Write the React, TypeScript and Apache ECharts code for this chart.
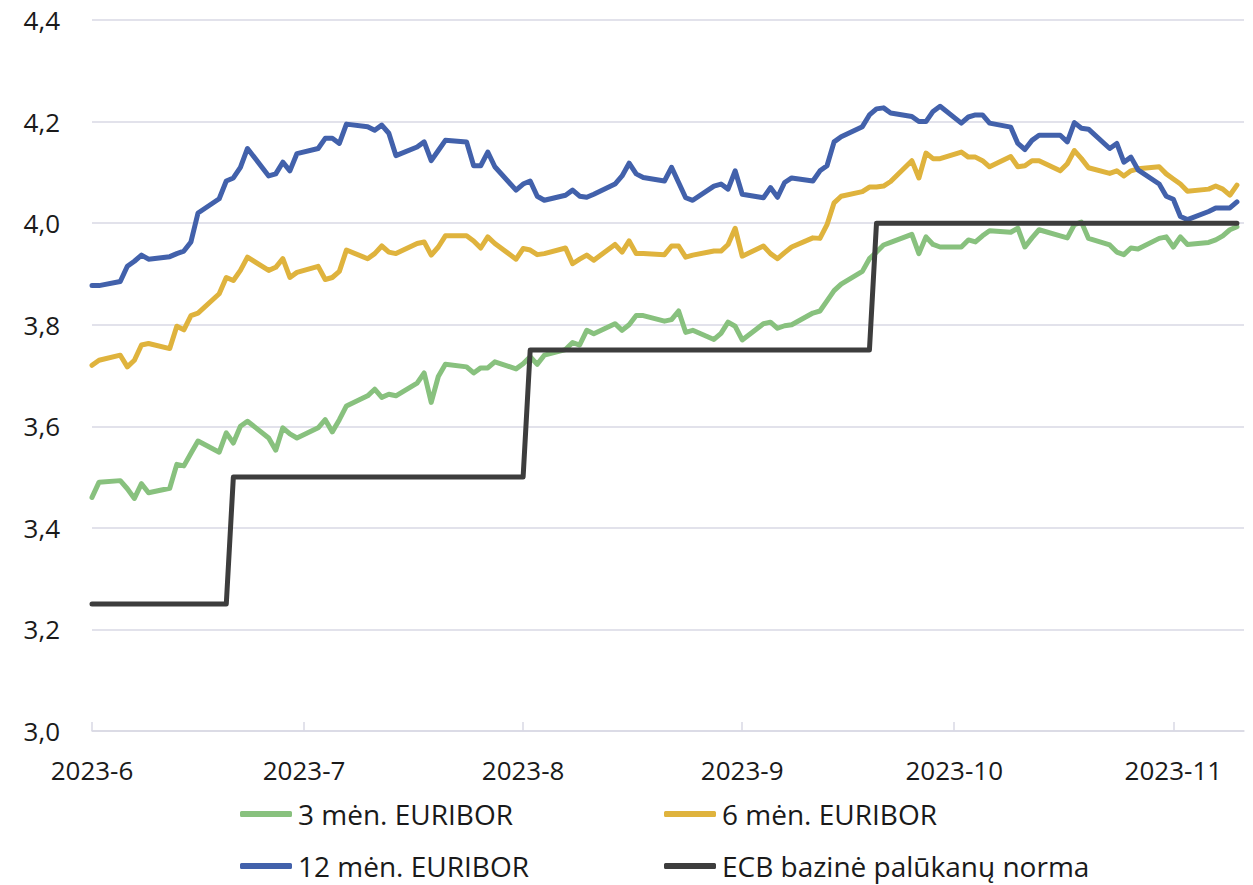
import React, { useEffect, useRef } from "react";
import * as echarts from "echarts";

// Business days (TARGET) per month, 2023
const MONTH_DAYS: [number, number[]][] = [
  [6, [1, 2, 5, 6, 7, 8, 9, 12, 13, 14, 15, 16, 19, 20, 21, 22, 23, 26, 27, 28, 29, 30]],
  [7, [3, 4, 5, 6, 7, 10, 11, 12, 13, 14, 17, 18, 19, 20, 21, 24, 25, 26, 27, 28, 31]],
  [8, [1, 2, 3, 4, 7, 8, 9, 10, 11, 14, 15, 16, 17, 18, 21, 22, 23, 24, 25, 28, 29, 30, 31]],
  [9, [1, 4, 5, 6, 7, 8, 11, 12, 13, 14, 15, 18, 19, 20, 21, 22, 25, 26, 27, 28, 29]],
  [10, [2, 3, 4, 5, 6, 9, 10, 11, 12, 13, 16, 17, 18, 19, 20, 23, 24, 25, 26, 27, 30, 31]],
  [11, [1, 2, 3, 6, 7, 8, 9, 10]],
];

const EURIBOR_3M = [
  // June
  3.46, 3.49, 3.493, 3.477, 3.458, 3.487, 3.469, 3.478, 3.525, 3.522, 3.547, 3.571, 3.549, 3.587, 3.567, 3.6, 3.61, 3.577, 3.553, 3.597, 3.585, 3.577,
  // July
  3.597, 3.613, 3.589, 3.613, 3.64, 3.66, 3.673, 3.657, 3.663, 3.66, 3.685, 3.705, 3.647, 3.698, 3.722, 3.717, 3.705, 3.715, 3.715, 3.727, 3.713,
  // August
  3.723, 3.737, 3.722, 3.74, 3.751, 3.765, 3.76, 3.789, 3.782, 3.802, 3.789, 3.8, 3.818, 3.818, 3.807, 3.81, 3.827, 3.785, 3.789, 3.771, 3.783, 3.805, 3.797,
  // September
  3.77, 3.802, 3.805, 3.793, 3.798, 3.8, 3.823, 3.827, 3.847, 3.867, 3.88, 3.905, 3.93, 3.943, 3.957, 3.962, 3.978, 3.94, 3.973, 3.958, 3.953,
  // October
  3.953, 3.967, 3.963, 3.975, 3.985, 3.982, 3.99, 3.953, 3.971, 3.987, 3.975, 3.971, 3.997, 4.002, 3.97, 3.957, 3.943, 3.938, 3.951, 3.949, 3.97, 3.973,
  // November
  3.953, 3.973, 3.958, 3.962, 3.967, 3.975, 3.987, 3.993,
];

const EURIBOR_6M = [
  3.72, 3.73, 3.74, 3.717, 3.73, 3.76, 3.763, 3.753, 3.797, 3.79, 3.818, 3.823, 3.861, 3.893, 3.887, 3.907, 3.933, 3.907, 3.913, 3.93, 3.893, 3.903,
  3.915, 3.889, 3.893, 3.905, 3.947, 3.93, 3.94, 3.955, 3.943, 3.94, 3.96, 3.963, 3.937, 3.953, 3.975, 3.975, 3.965, 3.951, 3.973, 3.96, 3.929,
  3.95, 3.947, 3.938, 3.94, 3.951, 3.92, 3.929, 3.937, 3.927, 3.958, 3.943, 3.965, 3.94, 3.94, 3.938, 3.955, 3.955, 3.933, 3.937, 3.945, 3.945, 3.958, 3.99,
  3.935, 3.955, 3.94, 3.93, 3.942, 3.953, 3.971, 3.97, 3.997, 4.04, 4.053, 4.062, 4.071, 4.071, 4.073, 4.082, 4.123, 4.089, 4.138, 4.127, 4.127,
  4.14, 4.13, 4.13, 4.123, 4.111, 4.131, 4.111, 4.113, 4.123, 4.123, 4.103, 4.117, 4.143, 4.127, 4.109, 4.098, 4.103, 4.093, 4.103, 4.107, 4.111, 4.097,
  4.087, 4.077, 4.063, 4.067, 4.073, 4.067, 4.055, 4.075,
];

const EURIBOR_12M = [
  3.877, 3.877, 3.885, 3.915, 3.925, 3.937, 3.929, 3.934, 3.94, 3.945, 3.963, 4.02, 4.048, 4.083, 4.089, 4.11, 4.147, 4.093, 4.097, 4.12, 4.103, 4.137,
  4.147, 4.167, 4.167, 4.157, 4.195, 4.19, 4.183, 4.193, 4.177, 4.133, 4.15, 4.16, 4.123, 4.143, 4.163, 4.16, 4.113, 4.113, 4.14, 4.111, 4.065,
  4.077, 4.083, 4.053, 4.045, 4.055, 4.065, 4.053, 4.051, 4.057, 4.077, 4.093, 4.118, 4.097, 4.09, 4.083, 4.11, 4.08, 4.05, 4.045, 4.073, 4.077, 4.067, 4.103,
  4.057, 4.05, 4.07, 4.051, 4.08, 4.089, 4.083, 4.103, 4.113, 4.16, 4.17, 4.19, 4.213, 4.225, 4.227, 4.217, 4.21, 4.2, 4.2, 4.22, 4.23,
  4.197, 4.209, 4.213, 4.213, 4.197, 4.189, 4.157, 4.145, 4.163, 4.173, 4.173, 4.16, 4.198, 4.187, 4.185, 4.147, 4.157, 4.12, 4.13, 4.105, 4.077, 4.053,
  4.047, 4.013, 4.007, 4.023, 4.03, 4.03, 4.03, 4.042,
];

// ECB main refinancing rate: change points
const ECB_DATES = ["2023-06-01", "2023-06-20", "2023-06-21", "2023-08-01", "2023-08-02", "2023-09-19", "2023-09-20", "2023-11-10"];
const ECB_RATES = [3.25, 3.25, 3.5, 3.5, 3.75, 3.75, 4.0, 4.0];

const SERIES_NAMES = ["3 mėn. EURIBOR", "6 mėn. EURIBOR", "12 mėn. EURIBOR", "ECB bazinė palūkanų norma"];
const COLORS = ["#88C17E", "#DFB33D", "#4261AB", "#3D3D3D"];

const Y_MIN = 3.0;
const Y_MAX = 4.4;
const Y_STEP = 0.2;

const pad = (n: number) => (n < 10 ? "0" + n : "" + n);
const DATES: string[] = [];
MONTH_DAYS.forEach(([m, days]) => days.forEach((d) => DATES.push(`2023-${pad(m)}-${pad(d)}`)));

const ts = (s: string) => {
  const [y, m, d] = s.split("-").map(Number);
  return new Date(y, m - 1, d).getTime();
};

const FONT = "Open Sans";
const TEXT_COLOR = "#1a1a1a";
const GRID_COLOR = "#D9D9E4";

export default function App() {
  const ref = useRef<HTMLDivElement>(null);

  useEffect(() => {
    if (!ref.current) return;
    const chart = echarts.init(ref.current, undefined, { renderer: "svg" });

    const mk = (vals: number[]) => DATES.map((d, i) => [ts(d), vals[i]]);
    const seriesData = [mk(EURIBOR_3M), mk(EURIBOR_6M), mk(EURIBOR_12M), ECB_DATES.map((d, i) => [ts(d), ECB_RATES[i]])];

    const legendPos = [
      { left: 240, top: 800 },
      { left: 664, top: 800 },
      { left: 240, top: 852 },
      { left: 664, top: 852 },
    ];

    chart.setOption({
      animation: false,
      backgroundColor: "#ffffff",
      textStyle: { fontFamily: FONT },
      grid: { left: 92, right: 9, top: 20, bottom: 154, containLabel: false },
      xAxis: {
        type: "time",
        min: ts("2023-06-01"),
        max: ts("2023-11-11"),
        minInterval: 28 * 86400000,
        maxInterval: 31 * 86400000,
        splitNumber: 6,
        axisLine: { show: true, lineStyle: { color: GRID_COLOR, width: 1.5 } },
        axisTick: { show: true, inside: true, length: 9, lineStyle: { color: GRID_COLOR, width: 1.5 } },
        splitLine: { show: false },
        axisLabel: {
          fontFamily: FONT,
          fontSize: 26,
          color: TEXT_COLOR,
          margin: 26,
          showMaxLabel: false,
          formatter: (v: number) => {
            const d = new Date(v);
            return `${d.getFullYear()}-${d.getMonth() + 1}`;
          },
        },
      },
      yAxis: {
        type: "value",
        min: Y_MIN,
        max: Y_MAX,
        interval: Y_STEP,
        axisLine: { show: false },
        axisTick: { show: false },
        splitLine: { lineStyle: { color: GRID_COLOR, width: 1.5 } },
        axisLabel: {
          fontFamily: FONT,
          fontSize: 26,
          color: TEXT_COLOR,
          margin: 32,
          formatter: (v: number) => v.toFixed(1).replace(".", ","),
        },
      },
      legend: SERIES_NAMES.map((name, i) => ({
        data: [name],
        left: legendPos[i].left,
        top: legendPos[i].top,
        padding: 0,
        itemWidth: 52,
        itemHeight: 6,
        itemGap: 0,
        icon: "roundRect",
        selectedMode: false,
        textStyle: { fontFamily: FONT, fontSize: 28, color: TEXT_COLOR, padding: [0, 0, 0, 1] },
      })),
      series: SERIES_NAMES.map((name, i) => ({
        name,
        type: "line",
        data: seriesData[i],
        showSymbol: false,
        symbol: "none",
        color: COLORS[i],
        lineStyle: { color: COLORS[i], width: 5, join: "round", cap: "round" },
        z: 2 + i,
      })),
    });

    return () => chart.dispose();
  }, []);

  return <div ref={ref} style={{ position: "absolute", left: 0, top: 0, width: 1253, height: 885 }} />;
}
